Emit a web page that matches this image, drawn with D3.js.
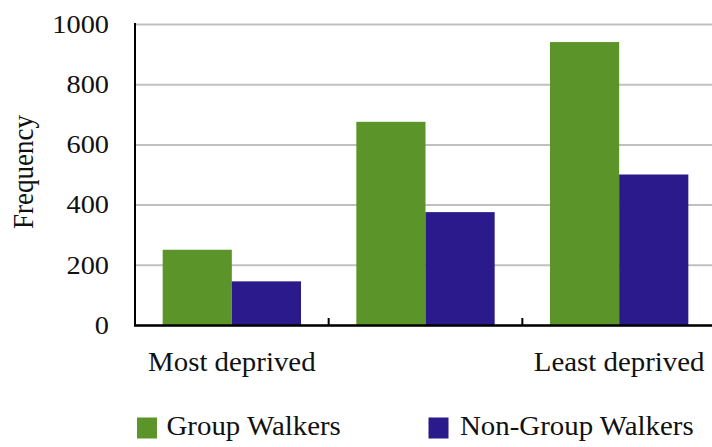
<!DOCTYPE html>
<html>
<head>
<meta charset="utf-8">
<script src="https://cdn.jsdelivr.net/npm/d3@7"></script>
<style>
  html, body { margin: 0; padding: 0; background: #fff; }
</style>
</head>
<body>
<svg id="chart" width="712" height="447"></svg>
<script>
// Deprivation groups along the x axis (middle group is unlabelled)
const categories = ["Most deprived", "Middle", "Least deprived"];
const categoryLabels = ["Most deprived", "", "Least deprived"];
const seriesNames = ["Group Walkers", "Non-Group Walkers"];
const groupWalkers = [250, 675, 940];
const nonGroupWalkers = [145, 375, 500];
const yTicks = [0, 200, 400, 600, 800, 1000];

const colors = { "Group Walkers": "#5B9529", "Non-Group Walkers": "#2A1A8C" };
const FONT = "Liberation Serif";
const stretch = 1.09; // type is set slightly wide

const svg = d3.select("#chart");
const plotLeft = 135, plotRight = 716, plotTop = 24, plotBottom = 325;

const x0 = d3.scaleBand().domain(categories).range([plotLeft, plotRight]).padding(0);
const x1 = d3.scaleBand().domain(seriesNames).range([0, x0.bandwidth()])
  .paddingInner(0).paddingOuter(0.4);
const y = d3.scaleLinear().domain([0, 1000]).range([plotBottom, plotTop]);

const rows = categories.map((c, i) => ({
  cat: c,
  values: [
    { name: seriesNames[0], value: groupWalkers[i] },
    { name: seriesNames[1], value: nonGroupWalkers[i] }
  ]
}));

// Horizontal gridlines
svg.append("g")
  .attr("transform", `translate(${plotLeft},0)`)
  .call(d3.axisLeft(y).tickValues(yTicks).tickSize(-(plotRight - plotLeft)).tickFormat(""))
  .call(g => g.select(".domain").remove())
  .call(g => g.selectAll(".tick line").attr("stroke", "#c0c0c0").attr("stroke-width", 2));

// Y tick labels
const yAxis = svg.append("g")
  .attr("transform", `translate(${plotLeft},0)`)
  .call(d3.axisLeft(y).tickValues(yTicks).tickSize(0).tickPadding(26).tickFormat(d3.format("d")))
  .attr("font-family", FONT)
  .attr("font-size", 26);
yAxis.select(".domain").remove();
yAxis.selectAll(".tick text")
  .attr("fill", "#111")
  .each(function () {
    const t = d3.select(this);
    const xx = +t.attr("x");
    t.attr("x", 0).attr("transform", `translate(${xx},0) scale(${stretch},1)`);
  });

// Bars
svg.append("g").selectAll("g")
  .data(rows)
  .join("g")
  .attr("transform", d => `translate(${x0(d.cat)},0)`)
  .selectAll("rect")
  .data(d => d.values)
  .join("rect")
  .attr("x", d => x1(d.name))
  .attr("y", d => y(d.value))
  .attr("width", x1.bandwidth())
  .attr("height", d => y(0) - y(d.value))
  .attr("fill", d => colors[d.name]);

// Y axis line
svg.append("line")
  .attr("x1", plotLeft).attr("x2", plotLeft)
  .attr("y1", y(1000) - 1).attr("y2", plotBottom + 1)
  .attr("stroke", "#000").attr("stroke-width", 2);

// X axis line with upward ticks at category boundaries
svg.append("line")
  .attr("x1", plotLeft - 1).attr("x2", 712)
  .attr("y1", plotBottom + 0.5).attr("y2", plotBottom + 0.5)
  .attr("stroke", "#000").attr("stroke-width", 2.5);
svg.append("g").selectAll("line")
  .data(categories.slice(1))
  .join("line")
  .attr("x1", d => x0(d)).attr("x2", d => x0(d))
  .attr("y1", plotBottom).attr("y2", plotBottom - 7)
  .attr("stroke", "#000").attr("stroke-width", 2);

// Category labels
svg.append("g").selectAll("text")
  .data(categories)
  .join("text")
  .attr("transform", d => `translate(${x0(d) + x0.bandwidth() / 2},371) scale(${stretch},1)`)
  .attr("text-anchor", "middle")
  .attr("font-family", FONT)
  .attr("font-size", 26.5)
  .attr("fill", "#111")
  .text((d, i) => categoryLabels[i]);

// Y axis title
svg.append("text")
  .attr("transform", `translate(33,172) scale(${stretch},1) rotate(-90)`)
  .attr("text-anchor", "middle")
  .attr("font-family", FONT)
  .attr("font-size", 27)
  .attr("fill", "#111")
  .text("Frequency");

// Legend
const legendPos = [{ sx: 137, tx: 166.5 }, { sx: 428.5, tx: 460 }];
const legend = svg.append("g").selectAll("g")
  .data(seriesNames)
  .join("g");
legend.append("rect")
  .attr("x", (d, i) => legendPos[i].sx)
  .attr("y", 417.5)
  .attr("width", 20).attr("height", 21)
  .attr("fill", d => colors[d]);
legend.append("text")
  .attr("transform", (d, i) => `translate(${legendPos[i].tx},435) scale(${stretch},1)`)
  .attr("font-family", FONT)
  .attr("font-size", 26.5)
  .attr("fill", "#111")
  .text(d => d);
</script>
</body>
</html>
